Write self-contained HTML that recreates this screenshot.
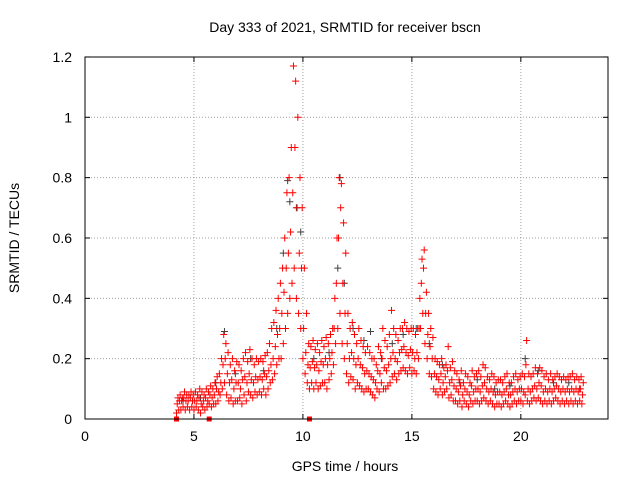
<!DOCTYPE html>
<html><head><meta charset="utf-8"><style>
body{margin:0;background:#fff}
svg{display:block;font-family:"Liberation Sans",sans-serif}
</style></head><body>
<svg id="chart" width="640" height="480">
<text x="345" y="32" font-size="14" text-anchor="middle">Day 333 of 2021, SRMTID for receiver bscn</text>
<text x="345" y="471" font-size="14" text-anchor="middle">GPS time / hours</text>
<text transform="translate(19,238) rotate(-90)" font-size="14" text-anchor="middle">SRMTID / TECUs</text>
<g id="grid"></g><g id="ticks"></g><g id="marks"></g>
<rect x="85" y="57" width="523" height="362" fill="none" stroke="#000"/>
</svg>
<script>
const xTicks=[0,5,10,15,20];
const yTicks=[0,0.2,0.4,0.6,0.8,1,1.2];
const yTickLabels=["0","0.2","0.4","0.6","0.8","1","1.2"];
const redStart=4.2, redStep=0.1;
const redLo=[.02,.03,.03,.04,.03,.04,.03,.04,
.03,.04,.03,.02,.04,.03,.04,.05,.04,.05,
.05,.06,.08,.1,.12,.08,.06,.07,.05,.06,
.06,.07,.05,.08,.06,.09,.08,.07,.09,.08,
.09,.08,.1,.08,.1,.12,.13,.15,.18,.2,
.2,.25,.3,.35,.4,.45,.5,.4,.35,.3,
.2,.15,.12,.1,.12,.1,.12,.1,.11,.12,
.12,.1,.13,.15,.18,.25,.3,.35,.25,.2,
.15,.12,.14,.13,.1,.12,.11,.1,.09,.1,
.1,.09,.08,.07,.1,.09,.12,.1,.1,.11,
.12,.14,.15,.13,.15,.16,.17,.16,.15,.17,
.15,.16,.15,.2,.3,.35,.25,.2,.15,.14,
.1,.09,.08,.1,.08,.09,.1,.07,.08,.06,
.06,.05,.06,.04,.06,.05,.04,.06,.05,.06,
.06,.05,.06,.07,.06,.05,.06,.05,.04,.05,
.05,.04,.05,.06,.05,.04,.05,.06,.05,.06,
.06,.05,.08,.06,.05,.06,.07,.06,.07,.06,
.05,.06,.05,.06,.05,.06,.07,.06,.05,.06,
.05,.06,.05,.06,.05,.06,.05,.06,.05];
const redMid=[.05,.06,.06,.07,.06,.06,.07,.06,
.06,.06,.07,.05,.06,.07,.06,.08,.07,.08,
.1,.09,.12,.18,.2,.15,.12,.13,.1,.12,
.12,.1,.13,.14,.12,.15,.13,.12,.14,.13,
.14,.13,.15,.14,.16,.18,.2,.24,.28,.3,
.35,.42,.5,.55,.62,.75,.9,.7,.55,.5,
.3,.22,.18,.17,.19,.17,.18,.16,.19,.18,
.2,.18,.2,.22,.3,.45,.6,.7,.45,.35,
.25,.2,.22,.2,.18,.2,.18,.17,.15,.16,
.15,.14,.13,.12,.16,.15,.2,.17,.16,.18,
.2,.22,.2,.19,.22,.23,.24,.22,.21,.23,
.22,.2,.22,.3,.45,.5,.35,.28,.24,.2,
.15,.14,.13,.15,.12,.14,.16,.12,.13,.11,
.1,.09,.11,.08,.1,.09,.08,.11,.09,.1,
.1,.09,.11,.12,.1,.09,.1,.09,.08,.09,
.09,.08,.09,.1,.08,.08,.09,.1,.09,.1,
.1,.09,.18,.1,.09,.1,.11,.1,.12,.11,
.09,.1,.09,.1,.09,.1,.11,.1,.09,.1,
.09,.1,.09,.1,.09,.1,.09,.1,.08];
const redHi=[.07,.08,.07,.09,.08,.08,.09,.08,
.09,.08,.1,.09,.08,.1,.09,.11,.1,.12,
.14,.15,.2,.28,.25,.22,.18,.2,.16,.19,
.18,.16,.2,.22,.19,.23,.2,.18,.2,.19,
.2,.19,.21,.22,.25,.3,.32,.36,.4,.45,
.5,.6,.75,.8,.9,1.17,1.12,1.0,.8,.7,
.5,.35,.25,.24,.26,.23,.25,.22,.26,.24,
.27,.25,.28,.3,.4,.6,.8,.78,.65,.55,
.35,.3,.32,.28,.25,.3,.26,.24,.22,.24,
.22,.2,.2,.18,.24,.22,.3,.26,.24,.28,
.36,.3,.28,.26,.3,.3,.32,.3,.29,.3,
.3,.28,.3,.4,.53,.56,.42,.35,.3,.27,
.2,.19,.18,.2,.17,.18,.24,.17,.19,.16,
.15,.13,.16,.12,.15,.14,.12,.16,.14,.15,
.16,.14,.18,.17,.14,.13,.15,.14,.12,.13,
.13,.12,.14,.15,.12,.12,.14,.15,.13,.14,
.15,.14,.26,.15,.14,.15,.17,.15,.17,.16,
.14,.15,.13,.15,.13,.14,.15,.14,.13,.14,
.13,.14,.14,.15,.13,.14,.13,.14,.12];
const greyT=[4.5,5.3,6.0,6.4,6.9,7.6,8.2,8.8,9.1,9.3,9.4,9.7,9.9,10.5,11.2,11.6,11.7,11.9,12.3,12.8,13.1,13.6,14.1,14.6,15.2,15.8,16.4,17.2,18.0,18.8,19.5,20.2,20.8,21.5,22.2,22.7];
const greyV=[.06,.07,.12,.29,.15,.2,.16,.3,.55,.79,.72,.7,.62,.2,.22,.5,.8,.45,.3,.26,.29,.2,.25,.28,.3,.25,.18,.12,.13,.1,.11,.2,.16,.12,.12,.1];
const redZeroT=[4.2,5.7,10.3];
const redZeroV=[0,0,0];
const xs=h=>85+h*(523/24), ys=v=>419-v*301.7;
const NS="http://www.w3.org/2000/svg";
function mk(tag,attrs,parent){const e=document.createElementNS(NS,tag);for(const k in attrs)e.setAttribute(k,attrs[k]);document.getElementById(parent).appendChild(e);return e;}
xTicks.forEach(t=>{
 const l=mk('line',{x1:xs(t),x2:xs(t),y1:57,y2:419,stroke:'#a0a0a0','stroke-dasharray':'1,2'},'grid');
 
 
 const tx=mk('text',{x:xs(t),y:441,'font-size':14,'text-anchor':'middle'},'ticks');
 tx.textContent=t;
 
 
 mk('line',{x1:xs(t),x2:xs(t),y1:419,y2:414,stroke:'#000'},'ticks');
 mk('line',{x1:xs(t),x2:xs(t),y1:57,y2:62,stroke:'#000'},'ticks');
});
yTicks.forEach((v,i)=>{
 const l=mk('line',{x1:85,x2:608,y1:ys(v),y2:ys(v),stroke:'#a0a0a0','stroke-dasharray':'1,2'},'grid');
 
 
 const tx=mk('text',{x:72,y:ys(v)+5,'font-size':14,'text-anchor':'end'},'ticks');
 tx.textContent=yTickLabels[i];
 
 
 mk('line',{x1:85,x2:90,y1:ys(v),y2:ys(v),stroke:'#000'},'ticks');
 mk('line',{x1:603,x2:608,y1:ys(v),y2:ys(v),stroke:'#000'},'ticks');
});
function plus(t,v,color,name){
 const x=xs(t),y=ys(v);
 const p=mk('path',{d:`M${x-3.5},${y}h7M${x},${y-3.5}v7`,stroke:color,'stroke-width':1,fill:'none'},'marks');
 
 
}
greyT.forEach((t,i)=>plus(t,greyV[i],'#404040','grey-point'));
const drawOffsets=[0,0.033,0.066];
[redLo,redMid,redHi].forEach((arr,k)=>arr.forEach((v,i)=>plus(redStart+i*redStep+drawOffsets[k],v,'#ff0000','red-point')));
redZeroT.forEach((t,i)=>{
 const r=mk('rect',{x:xs(t)-2.5,y:ys(redZeroV[i])-2.5,width:5,height:5,fill:'#ff0000'},'marks');
 
 
});
</script>
</body></html>
